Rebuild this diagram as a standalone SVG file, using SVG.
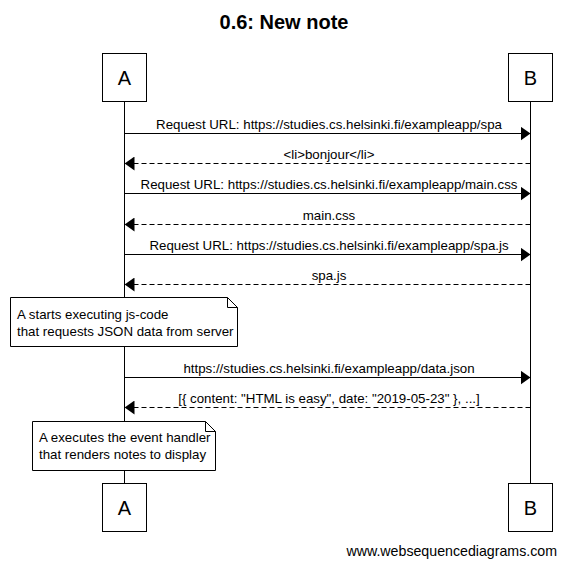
<svg xmlns="http://www.w3.org/2000/svg" width="566" height="566" viewBox="0 0 566 566">
<defs>
<style>
text{font-family:"Liberation Sans",Arial,sans-serif;fill:#000}
.box{fill:#fff;stroke:#000;stroke-width:1}
.life{stroke:#000;stroke-width:1}
.msg{stroke:#000;stroke-width:1;fill:none}
.dash{stroke-dasharray:5,3}
.lbl{font-size:13.3px;text-anchor:middle}
.act{font-size:20px;text-anchor:middle}
.note{font-size:13.3px}
</style>
<marker id="ah" viewBox="0 0 10 14" refX="10" refY="7" markerWidth="10" markerHeight="14" markerUnits="userSpaceOnUse" orient="auto">
<path d="M0,0 L10,7 L0,14 Z" fill="#000"/>
</marker>
</defs>
<rect width="566" height="566" fill="#fff"/>
<text x="284" y="29" font-size="20" font-weight="bold" text-anchor="middle">0.6: New note</text>
<g id="lifelines">
<line class="life" x1="124.5" y1="102" x2="124.5" y2="483"/>
<line class="life" x1="530.5" y1="102" x2="530.5" y2="483"/>
</g>
<g id="connectors">
<line class="msg" x1="124.5" y1="133.5" x2="530.5" y2="133.5" marker-end="url(#ah)"/>
<text class="lbl" x="329" y="129">Request URL: https://studies.cs.helsinki.fi/exampleapp/spa</text>
<line class="msg dash" x1="530.5" y1="163.5" x2="124.5" y2="163.5" marker-end="url(#ah)"/>
<text class="lbl" x="329" y="159">&lt;li&gt;bonjour&lt;/li&gt;</text>
<line class="msg" x1="124.5" y1="193.5" x2="530.5" y2="193.5" marker-end="url(#ah)"/>
<text class="lbl" x="329" y="189">Request URL: https://studies.cs.helsinki.fi/exampleapp/main.css</text>
<line class="msg dash" x1="530.5" y1="224.5" x2="124.5" y2="224.5" marker-end="url(#ah)"/>
<text class="lbl" x="329" y="220">main.css</text>
<line class="msg" x1="124.5" y1="254.5" x2="530.5" y2="254.5" marker-end="url(#ah)"/>
<text class="lbl" x="329" y="250">Request URL: https://studies.cs.helsinki.fi/exampleapp/spa.js</text>
<line class="msg dash" x1="530.5" y1="284.5" x2="124.5" y2="284.5" marker-end="url(#ah)"/>
<text class="lbl" x="329" y="280">spa.js</text>
<line class="msg" x1="124.5" y1="377.5" x2="530.5" y2="377.5" marker-end="url(#ah)"/>
<text class="lbl" x="329" y="373">https://studies.cs.helsinki.fi/exampleapp/data.json</text>
<line class="msg dash" x1="530.5" y1="407.5" x2="124.5" y2="407.5" marker-end="url(#ah)"/>
<text class="lbl" x="329" y="403">[{ content: "HTML is easy", date: "2019-05-23" }, ...]</text>
</g>
<g id="A-top">
<rect class="box" x="102.5" y="53.5" width="44" height="48"/>
<text class="act" x="124.5" y="85">A</text>
</g>
<g id="B-top">
<rect class="box" x="508.5" y="53.5" width="44" height="48"/>
<text class="act" x="530.5" y="85">B</text>
</g>
<g id="note1">
<path class="box" d="M10.5,297.5 H227.5 L237.5,307.5 V346.5 H10.5 Z"/>
<path d="M227.5,297.5 V307.5 H237.5" fill="none" stroke="#000"/>
<text class="note" x="17" y="319">A starts executing js-code</text>
<text class="note" x="17" y="336">that requests JSON data from server</text>
</g>
<g id="note2">
<path class="box" d="M32.5,421.5 H205.5 L215.5,431.5 V470.5 H32.5 Z"/>
<path d="M205.5,421.5 V431.5 H215.5" fill="none" stroke="#000"/>
<text class="note" x="39" y="442">A executes the event handler</text>
<text class="note" x="39" y="459">that renders notes to display</text>
</g>
<g id="A-bottom">
<rect class="box" x="102.5" y="483.5" width="44" height="48"/>
<text class="act" x="124.5" y="515">A</text>
</g>
<g id="B-bottom">
<rect class="box" x="508.5" y="483.5" width="44" height="48"/>
<text class="act" x="530.5" y="515">B</text>
</g>
<text x="557" y="556" font-size="14.2" text-anchor="end">www.websequencediagrams.com</text>
</svg>
